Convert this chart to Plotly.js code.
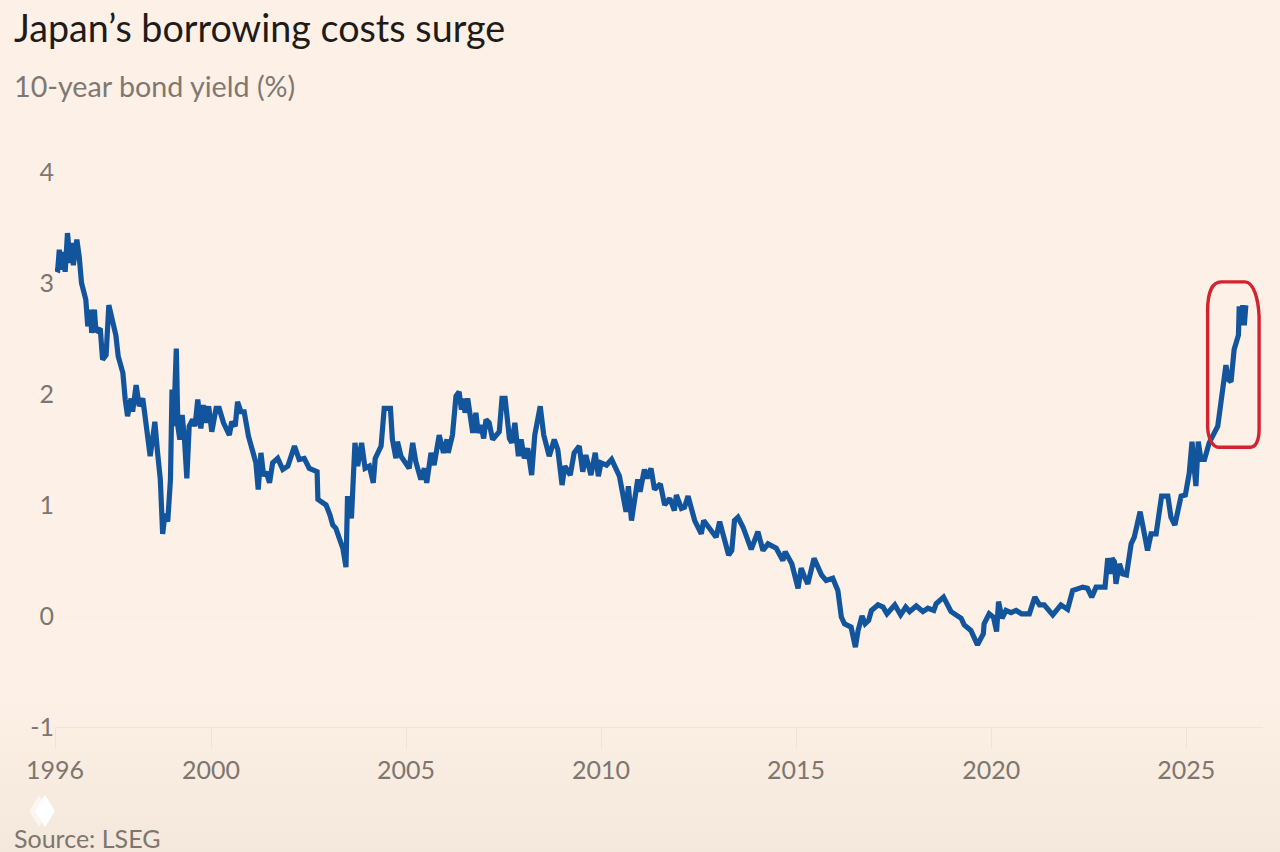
<!DOCTYPE html>
<html>
<head>
<meta charset="utf-8">
<script src="https://cdn.plot.ly/plotly-3.0.1.min.js"></script>
<style>
html,body{margin:0;padding:0;width:1280px;height:852px;overflow:hidden;
background:linear-gradient(to bottom,#fdf0e6 0,#fdf0e6 690px,#f4e8dc 852px);}
#chart{width:1280px;height:852px;}
</style>
</head>
<body>
<div id="chart"></div>
<script>
const years = [1996.00,1996.07,1996.11,1996.17,1996.22,1996.26,1996.32,1996.39,1996.43,1996.47,1996.56,1996.62,1996.68,1996.79,1996.84,1996.91,1996.94,1997.01,1997.05,1997.16,1997.22,1997.31,1997.38,1997.44,1997.56,1997.62,1997.74,1997.80,1997.86,1997.95,1997.99,1998.08,1998.16,1998.25,1998.33,1998.44,1998.50,1998.56,1998.63,1998.70,1998.76,1998.82,1998.89,1998.96,1999.00,1999.04,1999.11,1999.15,1999.20,1999.26,1999.32,1999.38,1999.44,1999.53,1999.59,1999.66,1999.74,1999.80,1999.87,1999.94,2000.02,2000.13,2000.21,2000.32,2000.47,2000.53,2000.62,2000.68,2000.77,2000.85,2000.96,2001.07,2001.15,2001.21,2001.28,2001.35,2001.41,2001.50,2001.58,2001.71,2001.84,2001.97,2002.14,2002.26,2002.39,2002.52,2002.72,2002.74,2002.86,2002.95,2003.05,2003.12,2003.20,2003.25,2003.38,2003.46,2003.50,2003.60,2003.69,2003.76,2003.86,2003.95,2004.06,2004.16,2004.21,2004.36,2004.44,2004.60,2004.65,2004.74,2004.78,2004.87,2005.08,2005.17,2005.25,2005.38,2005.47,2005.53,2005.64,2005.72,2005.85,2005.96,2006.05,2006.08,2006.19,2006.28,2006.36,2006.42,2006.48,2006.51,2006.58,2006.71,2006.79,2006.85,2006.92,2006.99,2007.05,2007.13,2007.22,2007.39,2007.46,2007.54,2007.65,2007.71,2007.79,2007.88,2007.95,2008.03,2008.12,2008.22,2008.30,2008.44,2008.53,2008.67,2008.80,2008.89,2009.00,2009.07,2009.21,2009.31,2009.44,2009.53,2009.61,2009.74,2009.85,2009.93,2010.00,2010.14,2010.27,2010.47,2010.64,2010.70,2010.78,2010.94,2011.00,2011.11,2011.18,2011.28,2011.37,2011.52,2011.63,2011.76,2011.88,2011.93,2012.06,2012.14,2012.23,2012.40,2012.57,2012.63,2012.78,2012.95,2013.04,2013.12,2013.27,2013.35,2013.42,2013.51,2013.64,2013.85,2014.02,2014.15,2014.28,2014.49,2014.66,2014.72,2014.89,2015.05,2015.13,2015.22,2015.30,2015.46,2015.65,2015.77,2015.94,2016.07,2016.16,2016.24,2016.41,2016.52,2016.59,2016.69,2016.77,2016.86,2016.93,2017.10,2017.23,2017.33,2017.53,2017.68,2017.81,2017.91,2018.08,2018.25,2018.38,2018.53,2018.59,2018.78,2018.89,2018.97,2019.23,2019.31,2019.48,2019.65,2019.80,2019.82,2019.95,2020.06,2020.14,2020.19,2020.28,2020.38,2020.51,2020.64,2020.78,2020.98,2021.12,2021.24,2021.36,2021.58,2021.79,2021.96,2022.09,2022.35,2022.47,2022.58,2022.69,2022.92,2022.99,2023.06,2023.10,2023.16,2023.20,2023.29,2023.37,2023.47,2023.59,2023.67,2023.82,2023.93,2024.01,2024.10,2024.23,2024.37,2024.53,2024.61,2024.71,2024.87,2024.98,2025.08,2025.15,2025.21,2025.25,2025.31,2025.38,2025.47,2025.59,2025.81,2025.89,2026.02,2026.08,2026.15,2026.23,2026.34,2026.36,2026.41,2026.45,2026.49,2026.53];
const yields = [3.13,3.12,3.30,3.12,3.28,3.10,3.45,3.18,3.36,3.16,3.39,3.24,3.00,2.85,2.61,2.76,2.55,2.76,2.56,2.59,2.31,2.35,2.80,2.70,2.53,2.34,2.19,1.95,1.80,1.96,1.84,2.08,1.89,1.96,1.77,1.44,1.59,1.75,1.47,1.23,0.74,0.92,0.85,1.23,2.04,1.71,2.41,1.71,1.59,1.81,1.59,1.24,1.71,1.77,1.71,1.95,1.69,1.90,1.74,1.89,1.66,1.87,1.87,1.74,1.63,1.75,1.71,1.93,1.84,1.84,1.62,1.50,1.38,1.14,1.47,1.26,1.30,1.20,1.38,1.42,1.32,1.35,1.53,1.41,1.42,1.33,1.30,1.05,1.02,1.00,0.91,0.82,0.79,0.73,0.61,0.44,1.08,0.88,1.56,1.35,1.56,1.33,1.35,1.20,1.42,1.53,1.87,1.87,1.59,1.42,1.57,1.44,1.33,1.56,1.39,1.23,1.33,1.20,1.47,1.36,1.63,1.47,1.59,1.47,1.63,1.98,2.02,1.86,1.96,1.83,1.96,1.65,1.83,1.65,1.72,1.60,1.77,1.74,1.59,1.66,1.96,1.96,1.60,1.56,1.74,1.44,1.59,1.42,1.51,1.27,1.63,1.89,1.63,1.44,1.59,1.50,1.18,1.35,1.27,1.47,1.53,1.30,1.45,1.27,1.47,1.26,1.38,1.36,1.41,1.26,0.94,1.17,0.86,1.23,1.12,1.32,1.24,1.33,1.14,1.19,1.00,1.06,0.95,1.09,0.97,0.98,1.08,0.86,0.74,0.86,0.79,0.71,0.85,0.74,0.55,0.59,0.86,0.89,0.80,0.60,0.76,0.59,0.65,0.61,0.50,0.58,0.47,0.25,0.43,0.35,0.29,0.52,0.37,0.32,0.34,0.23,-0.01,-0.07,-0.10,-0.28,-0.13,0.00,-0.07,-0.04,0.05,0.10,0.08,0.02,0.10,0.01,0.08,0.04,0.09,0.04,0.07,0.05,0.11,0.17,0.10,0.04,-0.02,-0.08,-0.13,-0.26,-0.16,-0.07,0.02,-0.01,-0.14,0.13,-0.02,0.05,0.03,0.05,0.02,0.02,0.17,0.10,0.10,0.01,0.10,0.06,0.23,0.26,0.25,0.17,0.26,0.26,0.52,0.38,0.52,0.49,0.29,0.47,0.38,0.37,0.65,0.71,0.94,0.74,0.59,0.74,0.74,1.08,1.08,0.89,0.82,1.08,1.09,1.29,1.57,1.32,1.17,1.57,1.41,1.41,1.56,1.71,1.92,2.26,2.13,2.11,2.40,2.53,2.79,2.62,2.80,2.62,2.80];
const xTickValues = [1996,2000,2005,2010,2015,2020,2025];
const xTickLabels = ["1996","2000","2005","2010","2015","2020","2025"];
const yTickValues = [-1,0,1,2,3,4];
const yTickLabels = ["-1","0","1","2","3","4"];
const titleText = "Japan’s borrowing costs surge";
const subtitleText = "10-year bond yield (%)";
const sourceText = "Source: LSEG";

const W = 1280, H = 852;
const M = {l:55, r:17, t:172, b:125};
const px = v => (v - M.l) / (W - M.l - M.r);
const py = v => (H - M.b - v) / (H - M.t - M.b);
const tickFont = {family:"Lato, sans-serif", size:25, color:"#7d766f"};

function diamond(cx, cy, w, h){
  return `M${px(cx)},${py(cy-h)} L${px(cx+w)},${py(cy)} L${px(cx)},${py(cy+h)} L${px(cx-w)},${py(cy)} Z`;
}
const note = (text, x, y, size, color) => ({
  text, xref:"paper", yref:"paper", x:px(x), y:py(y), xanchor:"left", yanchor:"middle",
  showarrow:false, align:"left", font:{family:"Lato, sans-serif", size, color}
});

Plotly.newPlot("chart", [{
  x: years, y: yields, type:"scatter", mode:"lines",
  line:{color:"#12559d", width:5.2, shape:"linear"}, hoverinfo:"x+y"
}], {
  width:W, height:H, margin:M, showlegend:false,
  paper_bgcolor:"rgba(0,0,0,0)", plot_bgcolor:"rgba(0,0,0,0)",
  xaxis:{type:"linear", range:[1996,2026.97], tickmode:"array", tickvals:xTickValues, ticktext:xTickLabels,
    ticks:"outside", ticklen:21, tickwidth:1, tickcolor:"#efe2d6", showgrid:false, zeroline:false,
    showline:true, linecolor:"#efe2d6", linewidth:1, tickfont:tickFont, automargin:false},
  yaxis:{range:[-1,4], tickmode:"array", tickvals:yTickValues, ticktext:yTickLabels, ticks:"", ticklen:0,
    showgrid:true, gridcolor:"#fbeee3", gridwidth:1, zeroline:false, showline:false, tickfont:tickFont, automargin:false},
  shapes:[
    {type:"path", xref:"x", yref:"y", layer:"above", line:{color:"#d2232f", width:3.4}, fillcolor:"rgba(0,0,0,0)",
     path:"M 2025.90,3.01 L 2026.50,3.01 C 2026.74,3.01 2026.85,2.85 2026.87,2.70 L 2026.87,1.68 C 2026.87,1.58 2026.78,1.52 2026.65,1.52 L 2025.85,1.52 C 2025.70,1.52 2025.57,1.58 2025.55,1.70 L 2025.55,2.75 C 2025.55,2.92 2025.68,3.01 2025.90,3.01 Z"},
    {type:"path", xref:"paper", yref:"paper", layer:"above", line:{width:0}, fillcolor:"rgba(255,255,255,0.55)", path:diamond(39,811,10,16)},
    {type:"path", xref:"paper", yref:"paper", layer:"above", line:{width:0}, fillcolor:"#ffffff", path:diamond(45,811,10,16)}
  ],
  annotations:[
    note(titleText, 12, 27, 37.7, "#1f1b18"),
    note(subtitleText, 12, 86, 28.7, "#7f7872"),
    note(sourceText, 12, 838, 25, "#7d766f")
  ]
}, {displayModeBar:false, staticPlot:true});
</script>
</body>
</html>
